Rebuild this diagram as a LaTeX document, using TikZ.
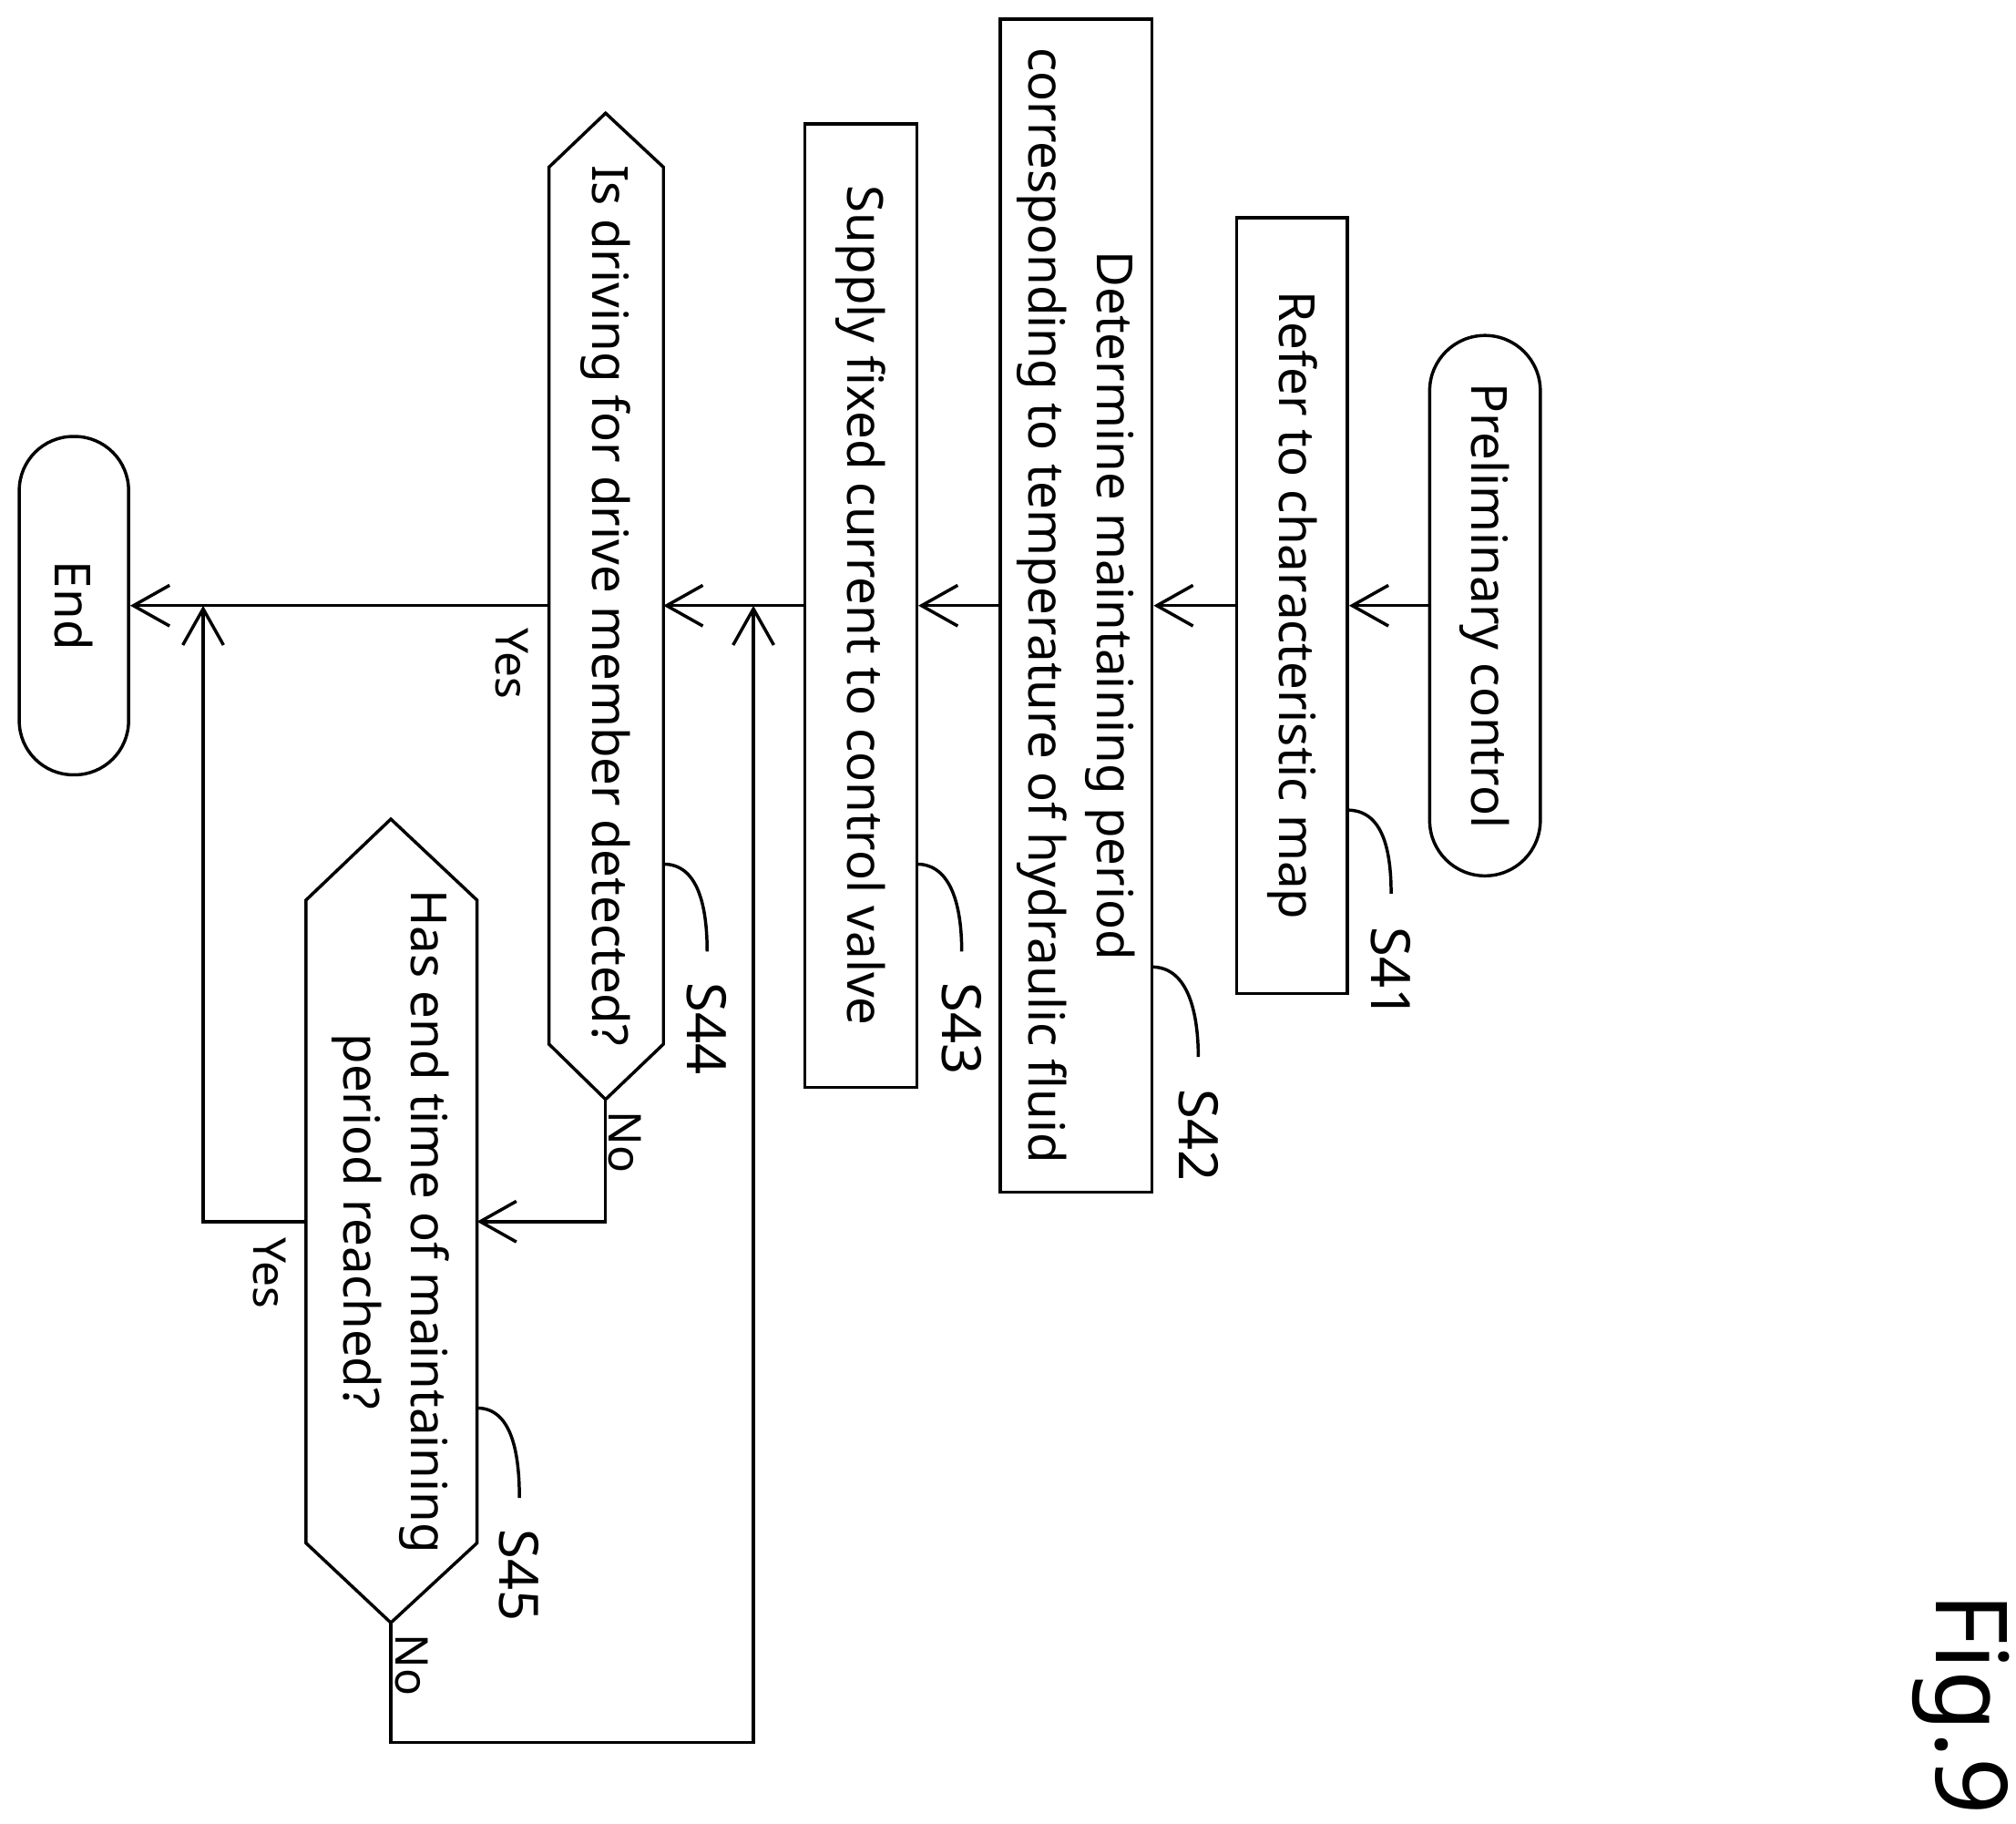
\documentclass[tikz,border=0pt]{standalone}
\usepackage{fontspec}
\setmainfont{Noto Sans}
\usetikzlibrary{arrows.meta}
\begin{document}
\begin{tikzpicture}[x=0.01cm,y=-0.01cm,
  t/.style={rotate=-90,font=\fontsize{11}{15}\selectfont,align=center},
  box/.style={draw,line width=0.7pt,rotate=-90,inner sep=0,font=\fontsize{11}{15}\selectfont,align=center},
  ln/.style={line width=0.7pt},
  ar/.style={ln,-{Straight Barb[length=8pt,width=9pt]}},
  lab/.style={rotate=-90,font=\fontsize{10}{12}\selectfont}]
\useasboundingbox (0,0) rectangle (1568,1418);
\node[box,rounded corners=0.43cm,minimum width=4.2cm,minimum height=0.86cm] (p) at (1155,471) {Preliminary control};
\node[box,minimum width=6.03cm,minimum height=0.86cm] (s41) at (1005,471) {Refer to characteristic map};
\node[box,minimum width=9.12cm,minimum height=1.18cm] (s42) at (837,471) {Determine maintaining period\\corresponding to temperature of hydraulic fluid};
\node[box,minimum width=7.49cm,minimum height=0.87cm] (s43) at (669.5,471) {Supply fixed current to control valve};
\node[box,rounded corners=0.42cm,minimum width=2.63cm,minimum height=0.85cm] (e) at (57.5,471) {End};
% hexagons
\draw[ln] (471,88) -- (516,130) -- (516,812) -- (471,855) -- (427,812) -- (427,130) -- cycle;
\node[t] (s44) at (471,471) {Is driving for drive member detected?};
\coordinate (s44t) at (471,88); \coordinate (s44b) at (471,855);
\coordinate (s44l) at (427,471); \coordinate (s44r) at (516,471);
\draw[ln] (304,637) -- (371,700) -- (371,1200) -- (304,1262) -- (238,1200) -- (238,700) -- cycle;
\node[t] (s45) at (304,950) {Has end time of maintaining\\period reached?};
\coordinate (s45b) at (304,1262); \coordinate (s45r) at (371,950); \coordinate (s45l) at (238,950);
% flow
\draw[ar] (p.south) -- (s41.north);
\draw[ar] (s41.south) -- (s42.north);
\draw[ar] (s42.south) -- (s43.north);
\draw[ar] (s43.south) -- (s44r);
\draw[ar] (s44l) -- (e.north);
\draw[ar] (s44b) -- (471,950) -- (s45r);
\draw[ar] (s45l) -- (158,950) -- (158,471);
\draw[ar] (s45b) -- (304,1355) -- (586,1355) -- (586,471);
\node[lab] at (398,516) {Yes};
\node[lab] at (486,888) {No};
\node[lab] at (210,990) {Yes};
\node[lab] at (320,1295) {No};
% step labels
\draw[ln] (1048,630) .. controls (1075,630) and (1082,660) .. (1082,695);
\node[lab,font=\fontsize{12}{14}\selectfont] at (1082,757) {S41};
\draw[ln] (896,752) .. controls (925,752) and (932,790) .. (932,822);
\node[lab,font=\fontsize{12}{14}\selectfont] at (932,883) {S42};
\draw[ln] (713,672) .. controls (740,672) and (748,705) .. (748,740);
\node[lab,font=\fontsize{12}{14}\selectfont] at (748,800) {S43};
\draw[ln] (516,672) .. controls (543,672) and (550,705) .. (550,740);
\node[lab,font=\fontsize{12}{14}\selectfont] at (550,800) {S44};
\draw[ln] (371,1095) .. controls (398,1095) and (404,1130) .. (404,1165);
\node[lab,font=\fontsize{12}{14}\selectfont] at (404,1225) {S45};
\node[rotate=-90,font=\fontsize{22}{26}\selectfont] at (1525,1325) {Fig.9};
\end{tikzpicture}
\end{document}
